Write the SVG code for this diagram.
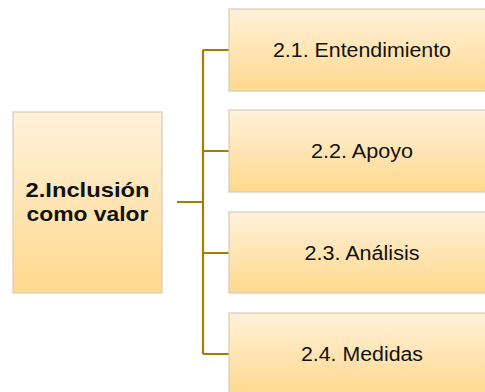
<svg xmlns="http://www.w3.org/2000/svg" width="485" height="392" viewBox="0 0 485 392">
<defs>
<linearGradient id="g" x1="0" y1="0" x2="0" y2="1">
<stop offset="0" stop-color="#FFF1DA"/>
<stop offset="1" stop-color="#FFD98E"/>
</linearGradient>
<style>
.box{fill:url(#g);stroke:#D4CCBC;stroke-width:1.2}
.lbl{font-family:"Liberation Sans",Arial,sans-serif;font-size:20px;fill:#111;text-anchor:middle}
.main{font-family:"Liberation Sans",Arial,sans-serif;font-size:21px;font-weight:bold;fill:#111;text-anchor:middle}
.con{stroke:#A67C06;stroke-width:2.2;fill:none}
</style>
</defs>
<rect width="485" height="392" fill="#fff"/>
<g id="connectors">
<path class="con" d="M177 202H203M203 50V354M203 50H229M203 151H229M203 253H229M203 354H229"/>
</g>
<g id="main">
<rect class="box" x="13" y="112" width="149" height="181"/>
<text class="main" x="87.5" y="197" textLength="124" lengthAdjust="spacingAndGlyphs">2.Inclusión</text>
<text class="main" x="87.5" y="221" textLength="122" lengthAdjust="spacingAndGlyphs">como valor</text>
</g>
<g id="n1">
<rect class="box" x="229" y="9" width="266" height="82"/>
<text class="lbl" x="362" y="57" textLength="178" lengthAdjust="spacingAndGlyphs">2.1. Entendimiento</text>
</g>
<g id="n2">
<rect class="box" x="229" y="110" width="266" height="82"/>
<text class="lbl" x="362" y="158" textLength="102" lengthAdjust="spacingAndGlyphs">2.2. Apoyo</text>
</g>
<g id="n3">
<rect class="box" x="229" y="212" width="266" height="81"/>
<text class="lbl" x="362" y="260" textLength="115" lengthAdjust="spacingAndGlyphs">2.3. Análisis</text>
</g>
<g id="n4">
<rect class="box" x="229" y="313" width="266" height="82"/>
<text class="lbl" x="362" y="361" textLength="122" lengthAdjust="spacingAndGlyphs">2.4. Medidas</text>
</g>
</svg>
